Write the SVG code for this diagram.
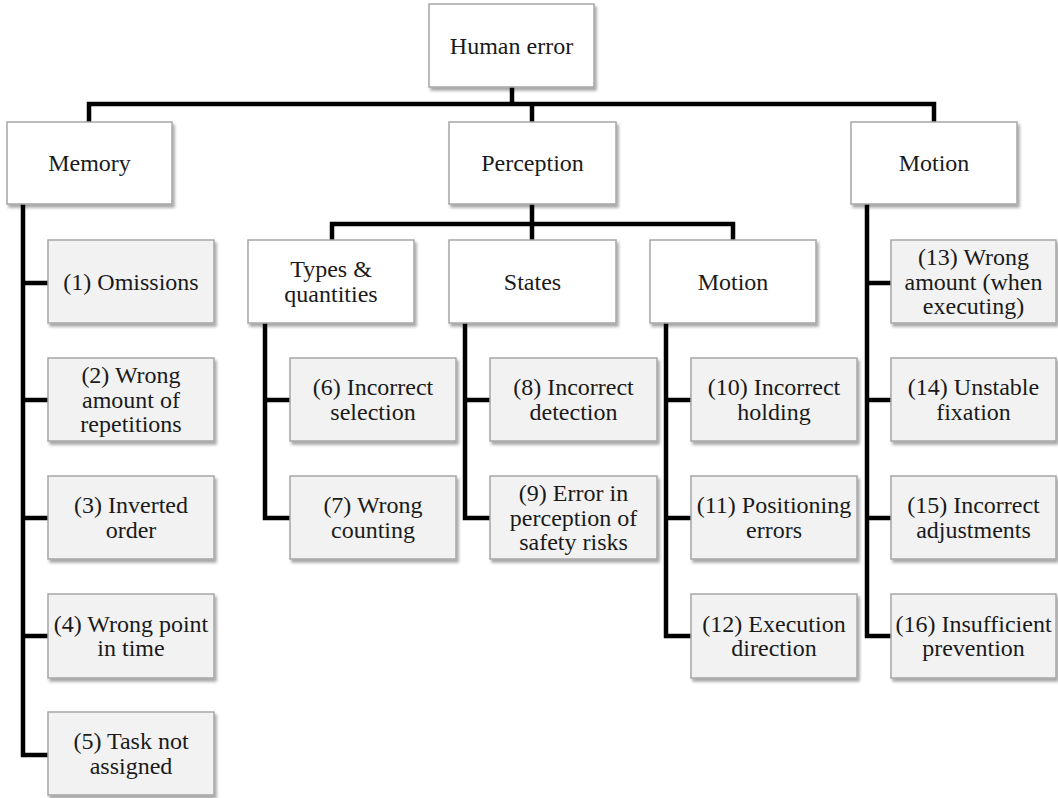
<svg xmlns="http://www.w3.org/2000/svg" width="1058" height="798" viewBox="0 0 1058 798">
<defs>
<filter id="sh" x="-10%" y="-10%" width="130%" height="130%">
<feDropShadow dx="2" dy="3" stdDeviation="1.5" flood-color="#000" flood-opacity="0.35"/>
</filter>
<style>
.box{fill:#fff;stroke:#a6a6a6;stroke-width:1.5;filter:url(#sh)}
.leaf{fill:#f2f2f2;stroke:#a6a6a6;stroke-width:1.5;filter:url(#sh)}
.t{font-size:24px;fill:#1a1a1a;text-anchor:middle}
.c{fill:none;stroke:#000;stroke-width:4.5;stroke-linejoin:miter;stroke-linecap:butt}
</style>
</defs>
<g id="connectors">
<path class="c" d="M512 87 V104 M89 122 V104 H934 V122 M532 104 V122"/>
<path class="c" d="M532 204 V240 M332 240 V224 H733 V240"/>
<path class="c" d="M23 204 V755 H48 M23 283 H48 M23 400 H48 M23 518 H48 M23 636 H48"/>
<path class="c" d="M265 323 V518 H290 M265 400 H290"/>
<path class="c" d="M465 323 V518 H490 M465 400 H490"/>
<path class="c" d="M666 323 V636 H691 M666 400 H691 M666 518 H691"/>
<path class="c" d="M867 204 V636 H891 M867 283 H891 M867 400 H891 M867 518 H891"/>
</g>
<g font-family="'Liberation Serif', 'DejaVu Serif', serif">
<g id="n-human-error"><rect class="box" x="429" y="4" width="165" height="83"/><text class="t" x="511.5" y="53.5">Human error</text></g>
<g id="n-memory"><rect class="box" x="7" y="122" width="165" height="82"/><text class="t" x="89.5" y="171">Memory</text></g>
<g id="n-perception"><rect class="box" x="449" y="122" width="167" height="82"/><text class="t" x="532.5" y="171">Perception</text></g>
<g id="n-motion"><rect class="box" x="851" y="122" width="166" height="82"/><text class="t" x="934" y="171">Motion</text></g>
<g id="n-types"><rect class="box" x="248" y="240" width="166" height="83"/><text class="t" x="331" y="277.3"><tspan x="331">Types &amp;</tspan><tspan x="331" dy="24.5">quantities</tspan></text></g>
<g id="n-states"><rect class="box" x="449" y="240" width="167" height="83"/><text class="t" x="532.5" y="289.5">States</text></g>
<g id="n-motion-sub"><rect class="box" x="650" y="240" width="166" height="83"/><text class="t" x="733" y="289.5">Motion</text></g>
<g id="n1"><rect class="leaf" x="48" y="240" width="166" height="83"/><text class="t" x="131" y="289.5">(1) Omissions</text></g>
<g id="n2"><rect class="leaf" x="48" y="358" width="166" height="83"/><text class="t" x="131" y="383"><tspan x="131">(2) Wrong</tspan><tspan x="131" dy="24.5">amount of</tspan><tspan x="131" dy="24.5">repetitions</tspan></text></g>
<g id="n3"><rect class="leaf" x="48" y="476" width="166" height="83"/><text class="t" x="131" y="513.3"><tspan x="131">(3) Inverted</tspan><tspan x="131" dy="24.5">order</tspan></text></g>
<g id="n4"><rect class="leaf" x="48" y="594" width="166" height="84"/><text class="t" x="131" y="631.8"><tspan x="131">(4) Wrong point</tspan><tspan x="131" dy="24.5">in time</tspan></text></g>
<g id="n5"><rect class="leaf" x="48" y="712" width="166" height="83"/><text class="t" x="131" y="749.3"><tspan x="131">(5) Task not</tspan><tspan x="131" dy="24.5">assigned</tspan></text></g>
<g id="n6"><rect class="leaf" x="290" y="358" width="166" height="83"/><text class="t" x="373" y="395.3"><tspan x="373">(6) Incorrect</tspan><tspan x="373" dy="24.5">selection</tspan></text></g>
<g id="n7"><rect class="leaf" x="290" y="476" width="166" height="83"/><text class="t" x="373" y="513.3"><tspan x="373">(7) Wrong</tspan><tspan x="373" dy="24.5">counting</tspan></text></g>
<g id="n8"><rect class="leaf" x="490" y="358" width="167" height="83"/><text class="t" x="573.5" y="395.3"><tspan x="573.5">(8) Incorrect</tspan><tspan x="573.5" dy="24.5">detection</tspan></text></g>
<g id="n9"><rect class="leaf" x="490" y="476" width="167" height="83"/><text class="t" x="573.5" y="501"><tspan x="573.5">(9) Error in</tspan><tspan x="573.5" dy="24.5">perception of</tspan><tspan x="573.5" dy="24.5">safety risks</tspan></text></g>
<g id="n10"><rect class="leaf" x="691" y="358" width="166" height="83"/><text class="t" x="774" y="395.3"><tspan x="774">(10) Incorrect</tspan><tspan x="774" dy="24.5">holding</tspan></text></g>
<g id="n11"><rect class="leaf" x="691" y="476" width="166" height="83"/><text class="t" x="774" y="513.3"><tspan x="774">(11) Positioning</tspan><tspan x="774" dy="24.5">errors</tspan></text></g>
<g id="n12"><rect class="leaf" x="691" y="594" width="166" height="84"/><text class="t" x="774" y="631.8"><tspan x="774">(12) Execution</tspan><tspan x="774" dy="24.5">direction</tspan></text></g>
<g id="n13"><rect class="leaf" x="891" y="240" width="165" height="83"/><text class="t" x="973.5" y="265"><tspan x="973.5">(13) Wrong</tspan><tspan x="973.5" dy="24.5">amount (when</tspan><tspan x="973.5" dy="24.5">executing)</tspan></text></g>
<g id="n14"><rect class="leaf" x="891" y="358" width="165" height="83"/><text class="t" x="973.5" y="395.3"><tspan x="973.5">(14) Unstable</tspan><tspan x="973.5" dy="24.5">fixation</tspan></text></g>
<g id="n15"><rect class="leaf" x="891" y="476" width="165" height="83"/><text class="t" x="973.5" y="513.3"><tspan x="973.5">(15) Incorrect</tspan><tspan x="973.5" dy="24.5">adjustments</tspan></text></g>
<g id="n16"><rect class="leaf" x="891" y="594" width="165" height="84"/><text class="t" x="973.5" y="631.8"><tspan x="973.5">(16) Insufficient</tspan><tspan x="973.5" dy="24.5">prevention</tspan></text></g>
</g>
</svg>
